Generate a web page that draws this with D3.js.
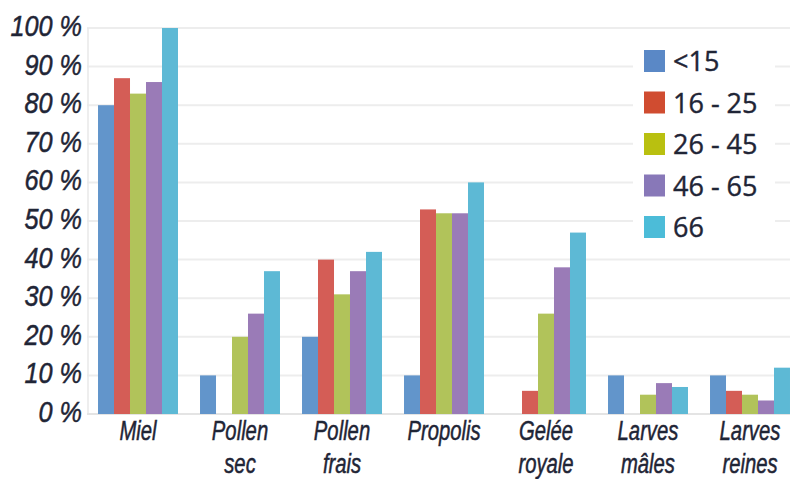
<!DOCTYPE html>
<html>
<head>
<meta charset="utf-8">
<script src="https://cdn.jsdelivr.net/npm/d3@7"></script>
<style>
  html, body { margin: 0; padding: 0; background: #fff; }
  svg { display: block; }
</style>
</head>
<body>
<svg id="chart" width="790" height="479"></svg>
<script>
// ---- data ----
const categories = ["Miel", "Pollen\nsec", "Pollen\nfrais", "Propolis", "Gelée\nroyale", "Larves\nmâles", "Larves\nreines"];
const seriesNames = ["<15", "16 - 25", "26 - 45", "46 - 65", "66"];
const s_lt15  = [80, 10, 20, 10, 0, 10, 10];
const s_16_25 = [87, 0, 40, 53, 6, 0, 6];
const s_26_45 = [83, 20, 31, 52, 26, 5, 5];
const s_46_65 = [86, 26, 37, 52, 38, 8, 3.5];
const s_66    = [100, 37, 42, 60, 47, 7, 12];
const yTicks = [0, 10, 20, 30, 40, 50, 60, 70, 80, 90, 100];

const seriesValues = [s_lt15, s_16_25, s_26_45, s_46_65, s_66];
const barColors = ["#6295cb", "#d45d56", "#b1c35a", "#9a7bb7", "#5db9d5"];
const legendColors = ["#5a88c6", "#d04c30", "#b9c010", "#8878b8", "#4cbcd8"];

// ---- layout ----
const svg = d3.select("#chart");
const pLeft = 87, pRight = 801, pTop = 28, pBottom = 414;
const axisFont = "'Liberation Sans', Arimo, sans-serif";
const textColor = "#1f2536";

const x0 = d3.scaleBand().domain(categories).range([pLeft, pRight]).paddingInner(0.216).paddingOuter(0.108);
const x1 = d3.scaleBand().domain(seriesNames).range([0, x0.bandwidth()]);
const y = d3.scaleLinear().domain([0, 100]).range([pBottom, pTop]);

// gridlines
svg.append("g").selectAll("line").data(yTicks.filter(d => d > 0)).join("line")
  .attr("x1", pLeft).attr("x2", 790)
  .attr("y1", d => y(d)).attr("y2", d => y(d))
  .attr("stroke", "#ededed").attr("stroke-width", 2);

// axis lines
svg.append("line").attr("x1", pLeft + 1).attr("x2", pLeft + 1).attr("y1", pTop).attr("y2", pBottom)
  .attr("stroke", "#e8e8e8").attr("stroke-width", 1.5);
svg.append("line").attr("x1", pLeft).attr("x2", 790).attr("y1", pBottom).attr("y2", pBottom)
  .attr("stroke", "#e4e4e4").attr("stroke-width", 2);

// legend background (hides gridlines)
svg.append("rect").attr("x", 633).attr("y", 36).attr("width", 142).attr("height", 208).attr("fill", "#fff");

// bars
const groups = svg.append("g").selectAll("g").data(categories).join("g")
  .attr("transform", d => `translate(${x0(d)},0)`);
groups.selectAll("rect").data((c, ci) => seriesNames.map((s, si) => ({s, si, v: seriesValues[si][ci]})))
  .join("rect")
  .attr("x", d => x1(d.s))
  .attr("width", x1.bandwidth())
  .attr("y", d => y(d.v))
  .attr("height", d => pBottom - y(d.v))
  .attr("fill", d => barColors[d.si]);

// y tick labels (condensed look via horizontal scale)
svg.append("g").selectAll("text").data(yTicks).join("text")
  .attr("transform", d => `translate(82, ${y(d) + 8}) scale(0.87, 1)`)
  .attr("text-anchor", "end")
  .attr("font-family", axisFont)
  .attr("font-style", "italic")
  .attr("font-size", 29)
  .attr("fill", textColor)
  .attr("stroke", textColor).attr("stroke-width", 0.5)
  .text(d => d + " %");

// category labels
const catLabels = svg.append("g").selectAll("text").data(categories).join("text")
  .attr("transform", d => `translate(${x0(d) + x0.bandwidth() / 2}, 440) scale(0.75, 1)`)
  .attr("text-anchor", "middle")
  .attr("font-family", axisFont)
  .attr("font-style", "italic")
  .attr("font-size", 27)
  .attr("fill", textColor)
  .attr("stroke", textColor).attr("stroke-width", 0.5);
catLabels.each(function(d) {
  const t = d3.select(this);
  d.split("\n").forEach((line, i) => {
    t.append("tspan").attr("x", 0).attr("dy", i === 0 ? 0 : 33).text(line);
  });
});

// legend
const leg = svg.append("g").selectAll("g").data(seriesNames).join("g")
  .attr("transform", (d, i) => `translate(644, ${50 + i * 41.5})`);
leg.append("rect").attr("width", 21).attr("height", 22).attr("fill", (d, i) => legendColors[i]);
leg.append("text").attr("x", 29).attr("y", 21)
  .attr("font-family", "'Open Sans', sans-serif")
  .attr("font-size", 27)
  .attr("fill", textColor)
  .attr("stroke", textColor).attr("stroke-width", 0.4)
  .text(d => d);
</script>
</body>
</html>
